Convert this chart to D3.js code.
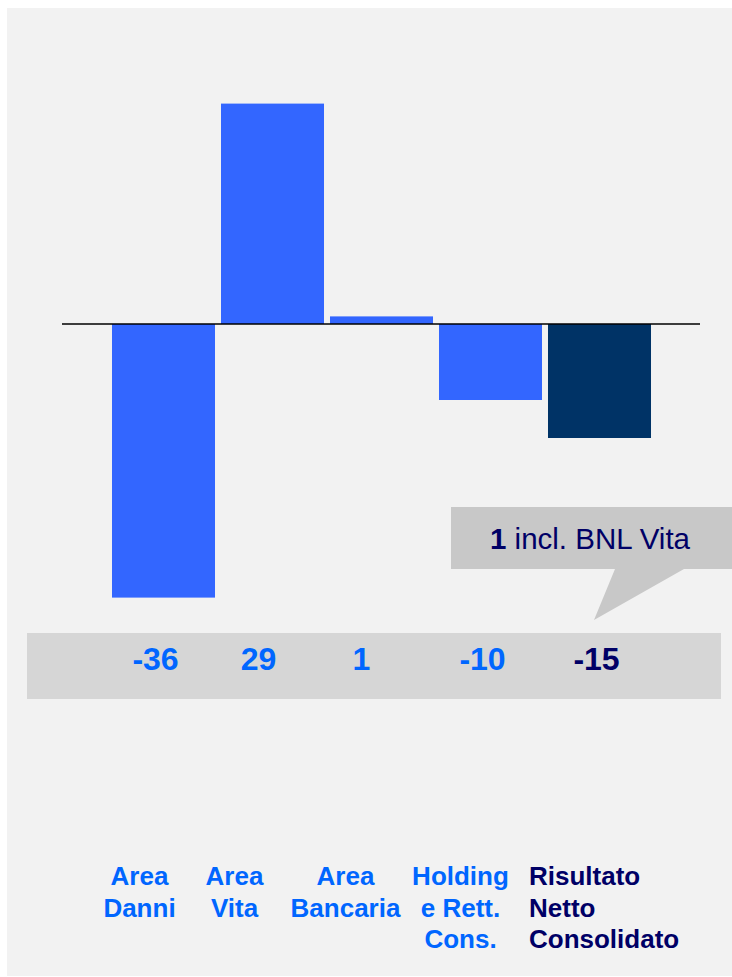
<!DOCTYPE html>
<html>
<head>
<meta charset="utf-8">
<script src="https://cdn.jsdelivr.net/npm/d3@7/dist/d3.min.js"></script>
<style>
  html, body { margin: 0; padding: 0; background: #ffffff; }
  svg { display: block; font-family: "Liberation Sans", Arial, sans-serif; }
</style>
</head>
<body>
<svg id="chart" width="732" height="977"></svg>
<script>
// ---- data ----
const categories = ["Area Danni", "Area Vita", "Area Bancaria", "Holding e Rett. Cons.", "Risultato Netto Consolidato"];
const categoryLines = [["Area", "Danni"], ["Area", "Vita"], ["Area", "Bancaria"], ["Holding", "e Rett.", "Cons."], ["Risultato", "Netto", "Consolidato"]];
const values = [-36, 29, 1, -10, -15];
const valueLabels = ["-36", "29", "1", "-10", "-15"];
const isTotal = [false, false, false, false, true];
const noteBold = "1";
const noteText = " incl. BNL Vita";

// ---- layout ----
const W = 732, H = 977;
const blue = "#3366ff", navy = "#003366", textBlue = "#0066ff", textNavy = "#000066";
const valueDx = [-8, -14, -20, -8, -3];
const labelDx = [-24, -38, -36, -30, 0];

const svg = d3.select("#chart");
svg.append("rect").attr("x", 7).attr("y", 8).attr("width", W - 7).attr("height", H - 9).attr("fill", "#f2f2f2");

const x = d3.scaleBand().domain(categories).range([109, 654]).paddingInner(0.055).paddingOuter(0.0275);
const y = d3.scaleLinear().domain([-40, 40]).range([628, 20]);

// bars
svg.selectAll("rect.bar").data(values).join("rect")
  .attr("class", "bar")
  .attr("x", (d, i) => x(categories[i]))
  .attr("width", x.bandwidth())
  .attr("y", d => Math.min(y(d), y(0)))
  .attr("height", d => Math.abs(y(d) - y(0)))
  .attr("fill", (d, i) => isTotal[i] ? navy : blue);

// zero line
svg.append("line").attr("x1", 62).attr("x2", 700).attr("y1", y(0)).attr("y2", y(0))
  .attr("stroke", "#000").attr("stroke-width", 1.3);

// callout
svg.append("path")
  .attr("d", "M451,507 L732,507 L732,569 L684,569 L594,620 L615,569 L451,569 Z")
  .attr("fill", "#c8c8c8");
const note = svg.append("text").attr("x", 590).attr("y", 549).attr("text-anchor", "middle")
  .attr("font-size", 29.5).attr("fill", textNavy);
note.append("tspan").attr("font-weight", "bold").text(noteBold);
note.append("tspan").text(noteText);

// value band
svg.append("rect").attr("x", 27).attr("y", 633).attr("width", 694).attr("height", 66).attr("fill", "#d6d6d6");
svg.selectAll("text.val").data(valueLabels).join("text")
  .attr("class", "val")
  .attr("x", (d, i) => x(categories[i]) + x.bandwidth() / 2 + valueDx[i])
  .attr("y", 670)
  .attr("text-anchor", "middle")
  .attr("font-size", 32).attr("font-weight", "bold")
  .attr("fill", (d, i) => isTotal[i] ? textNavy : textBlue)
  .text(d => d);

// category labels
categoryLines.forEach((lines, i) => {
  const cx = isTotal[i] ? x(categories[i]) - 19 : x(categories[i]) + x.bandwidth() / 2 + labelDx[i];
  const t = svg.append("text")
    .attr("x", cx).attr("y", 885)
    .attr("text-anchor", isTotal[i] ? "start" : "middle")
    .attr("font-size", 26).attr("font-weight", "bold")
    .attr("fill", isTotal[i] ? textNavy : textBlue);
  lines.forEach((l, j) => {
    t.append("tspan").attr("x", cx).attr("dy", j === 0 ? 0 : 31.5).text(l);
  });
});
</script>
</body>
</html>
